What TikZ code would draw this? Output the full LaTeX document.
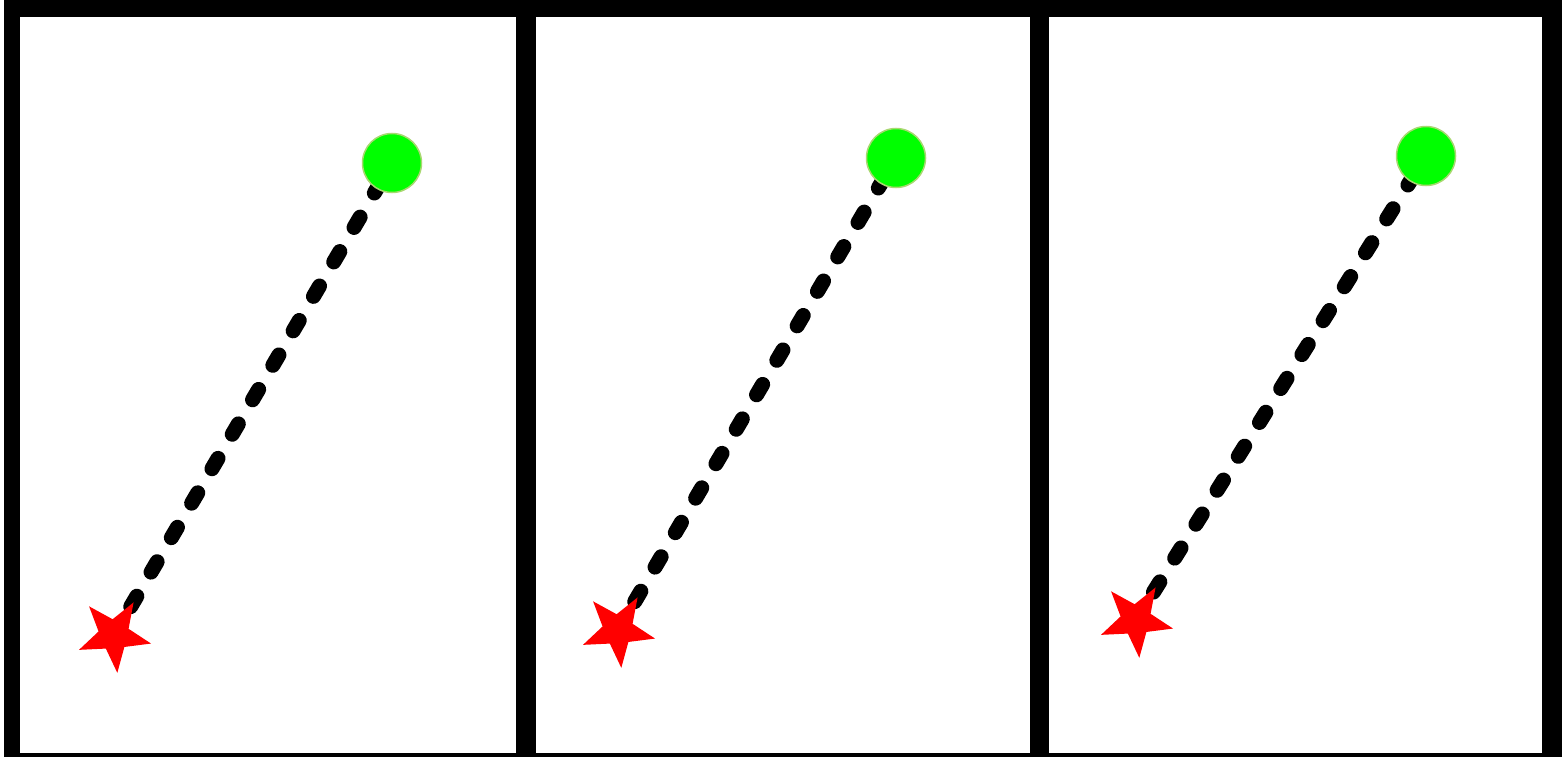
\documentclass[tikz,border=0pt]{standalone}
\usetikzlibrary{shapes.geometric}
\definecolor{goal}{HTML}{00FF00}
\definecolor{goalrim}{HTML}{A8D870}
\definecolor{startred}{HTML}{FF0000}
\tikzset{
  goalnode/.style={circle, minimum size=59pt, inner sep=0pt, fill=goal, draw=goalrim, line width=1.5pt},
  startnode/.style={star, star points=5, star point ratio=2.4, minimum size=76pt, inner sep=0pt,
    shape border rotate=-31, fill=startred, draw=none},
  pathline/.style={line width=15pt, line cap=round, dash pattern=on 12pt off 28pt, dash phase=7pt},
  panel/.style={fill=white, draw=none}
}
\begin{document}
\begin{tikzpicture}[x=1pt,y=-1pt]
\useasboundingbox (0,0) rectangle (1562,757);
% frame
\fill[black] (4,0) rectangle (1562,757);
\fill[panel] (20,17) rectangle (516,753);
\fill[panel] (536,17) rectangle (1030,753);
\fill[panel] (1049,17) rectangle (1542,753);
% positions
\coordinate (s1) at (114,635);
\coordinate (g1) at (392,163);
\coordinate (s2) at (618,630);
\coordinate (g2) at (896,158);
\coordinate (s3) at (1136,620);
\coordinate (g3) at (1426,156);
% paths
\draw[pathline] (s1) -- (g1);
\draw[pathline] (s2) -- (g2);
\draw[pathline] (s3) -- (g3);
% markers
\node[goalnode] (goal1) at (g1) {};
\node[goalnode] (goal2) at (g2) {};
\node[goalnode] (goal3) at (g3) {};
\node[startnode] (start1) at (s1) {};
\node[startnode] (start2) at (s2) {};
\node[startnode] (start3) at (s3) {};
\end{tikzpicture}
\end{document}
